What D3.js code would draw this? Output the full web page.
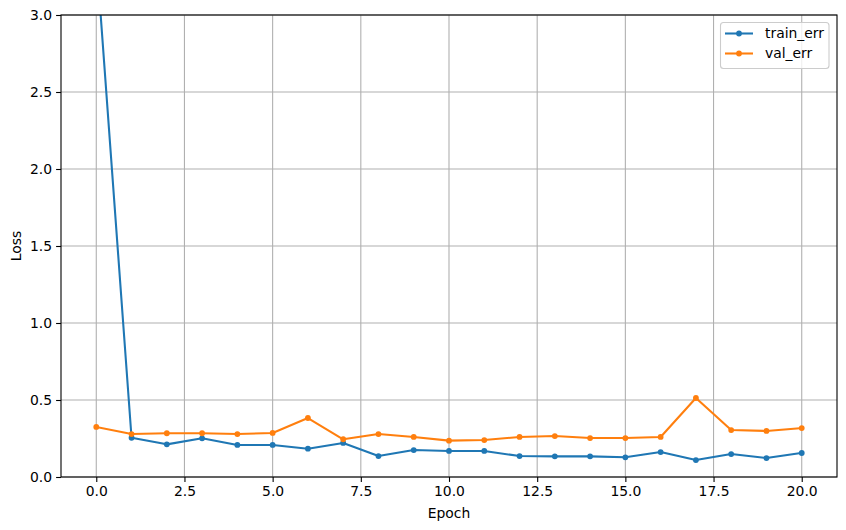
<!DOCTYPE html>
<html><head><meta charset="utf-8">
<script src="https://cdn.jsdelivr.net/npm/d3@7"></script>
<style>body{margin:0;background:#fff}svg{display:block;font-family:"DejaVu Sans",sans-serif}</style>
</head><body><div id="chart"></div>
<script>
const epochs = [0,1,2,3,4,5,6,7,8,9,10,11,12,13,14,15,16,17,18,19,20];
const trainErr = [3.39,0.255,0.212,0.251,0.208,0.208,0.184,0.221,0.136,0.175,0.169,0.169,0.136,0.134,0.134,0.128,0.162,0.110,0.149,0.123,0.156];
const valErr = [0.325,0.279,0.284,0.284,0.279,0.286,0.383,0.245,0.279,0.260,0.236,0.240,0.260,0.266,0.253,0.253,0.260,0.513,0.305,0.299,0.318];
const xTicks = [0,2.5,5,7.5,10,12.5,15,17.5,20];
const yTicks = [0,0.5,1,1.5,2,2.5,3];
const seriesNames = ["train_err","val_err"];
const colors = ["#1f77b4","#ff7f0e"];

const W=846,H=530, L=61,T=15,R=837,B=477;
const svg=d3.select("#chart").append("svg").attr("width",W).attr("height",H);
const x=d3.scaleLinear().domain([-1,21]).range([L,R]);
const y=d3.scaleLinear().domain([0,3]).range([B,T]);

// grid
const g=svg.append("g");
g.selectAll(".gx").data(xTicks).join("line").attr("x1",d=>x(d)).attr("x2",d=>x(d)).attr("y1",T).attr("y2",B).attr("stroke","#b0b0b0").attr("stroke-width",1.1);
g.selectAll(".gy").data(yTicks).join("line").attr("y1",d=>y(d)).attr("y2",d=>y(d)).attr("x1",L).attr("x2",R).attr("stroke","#b0b0b0").attr("stroke-width",1.1);

svg.append("defs").append("clipPath").attr("id","clip").append("rect").attr("x",L).attr("y",T).attr("width",R-L).attr("height",B-T);

const series=[trainErr,valErr];
const line=d3.line().x((d,i)=>x(epochs[i])).y(d=>y(d));
const plot=svg.append("g").attr("clip-path","url(#clip)");
series.forEach((s,k)=>{
  plot.append("path").attr("d",line(s)).attr("fill","none").attr("stroke",colors[k]).attr("stroke-width",2.08).attr("stroke-linejoin","round").attr("stroke-linecap","square");
  plot.selectAll(".m"+k).data(s).join("circle").attr("cx",(d,i)=>x(epochs[i])).attr("cy",d=>y(d)).attr("r",2.9).attr("fill",colors[k]);
});

// axes
const fmt=d3.format(".1f");
const xa=svg.append("g").attr("transform",`translate(0,${B})`).call(d3.axisBottom(x).tickValues(xTicks).tickFormat(fmt).tickSizeOuter(0).tickSize(4.9).tickPadding(4));
const ya=svg.append("g").attr("transform",`translate(${L},0)`).call(d3.axisLeft(y).tickValues(yTicks).tickFormat(fmt).tickSizeOuter(0).tickSize(4.9).tickPadding(4));
[xa,ya].forEach(a=>{a.select(".domain").remove();a.selectAll("line").attr("stroke","#000").attr("stroke-width",1.1);a.selectAll("text").attr("font-size",13.9).attr("font-family","DejaVu Sans").attr("fill","#000");});

svg.append("rect").attr("x",L).attr("y",T).attr("width",R-L).attr("height",B-T).attr("fill","none").attr("stroke","#000").attr("stroke-width",1.1);

svg.append("text").attr("x",(L+R)/2).attr("y",518).attr("text-anchor","middle").attr("font-size",13.9).text("Epoch");
svg.append("text").attr("transform",`translate(21,${(T+B)/2}) rotate(-90)`).attr("text-anchor","middle").attr("font-size",13.9).text("Loss");

// legend
const lg=svg.append("g");
lg.append("rect").attr("x",720.5).attr("y",22.5).attr("width",108.5).attr("height",46).attr("rx",3).attr("fill","#fff").attr("fill-opacity",0.8).attr("stroke","#cccccc").attr("stroke-width",1.1);
seriesNames.forEach((n,k)=>{
  const yy=33.5+k*20;
  lg.append("line").attr("x1",725).attr("x2",753).attr("y1",yy).attr("y2",yy).attr("stroke",colors[k]).attr("stroke-width",2.08);
  lg.append("circle").attr("cx",739).attr("cy",yy).attr("r",2.9).attr("fill",colors[k]);
  lg.append("text").attr("x",765).attr("y",yy).attr("dy","0.35em").attr("font-size",13.9).text(n);
});
</script></body></html>
